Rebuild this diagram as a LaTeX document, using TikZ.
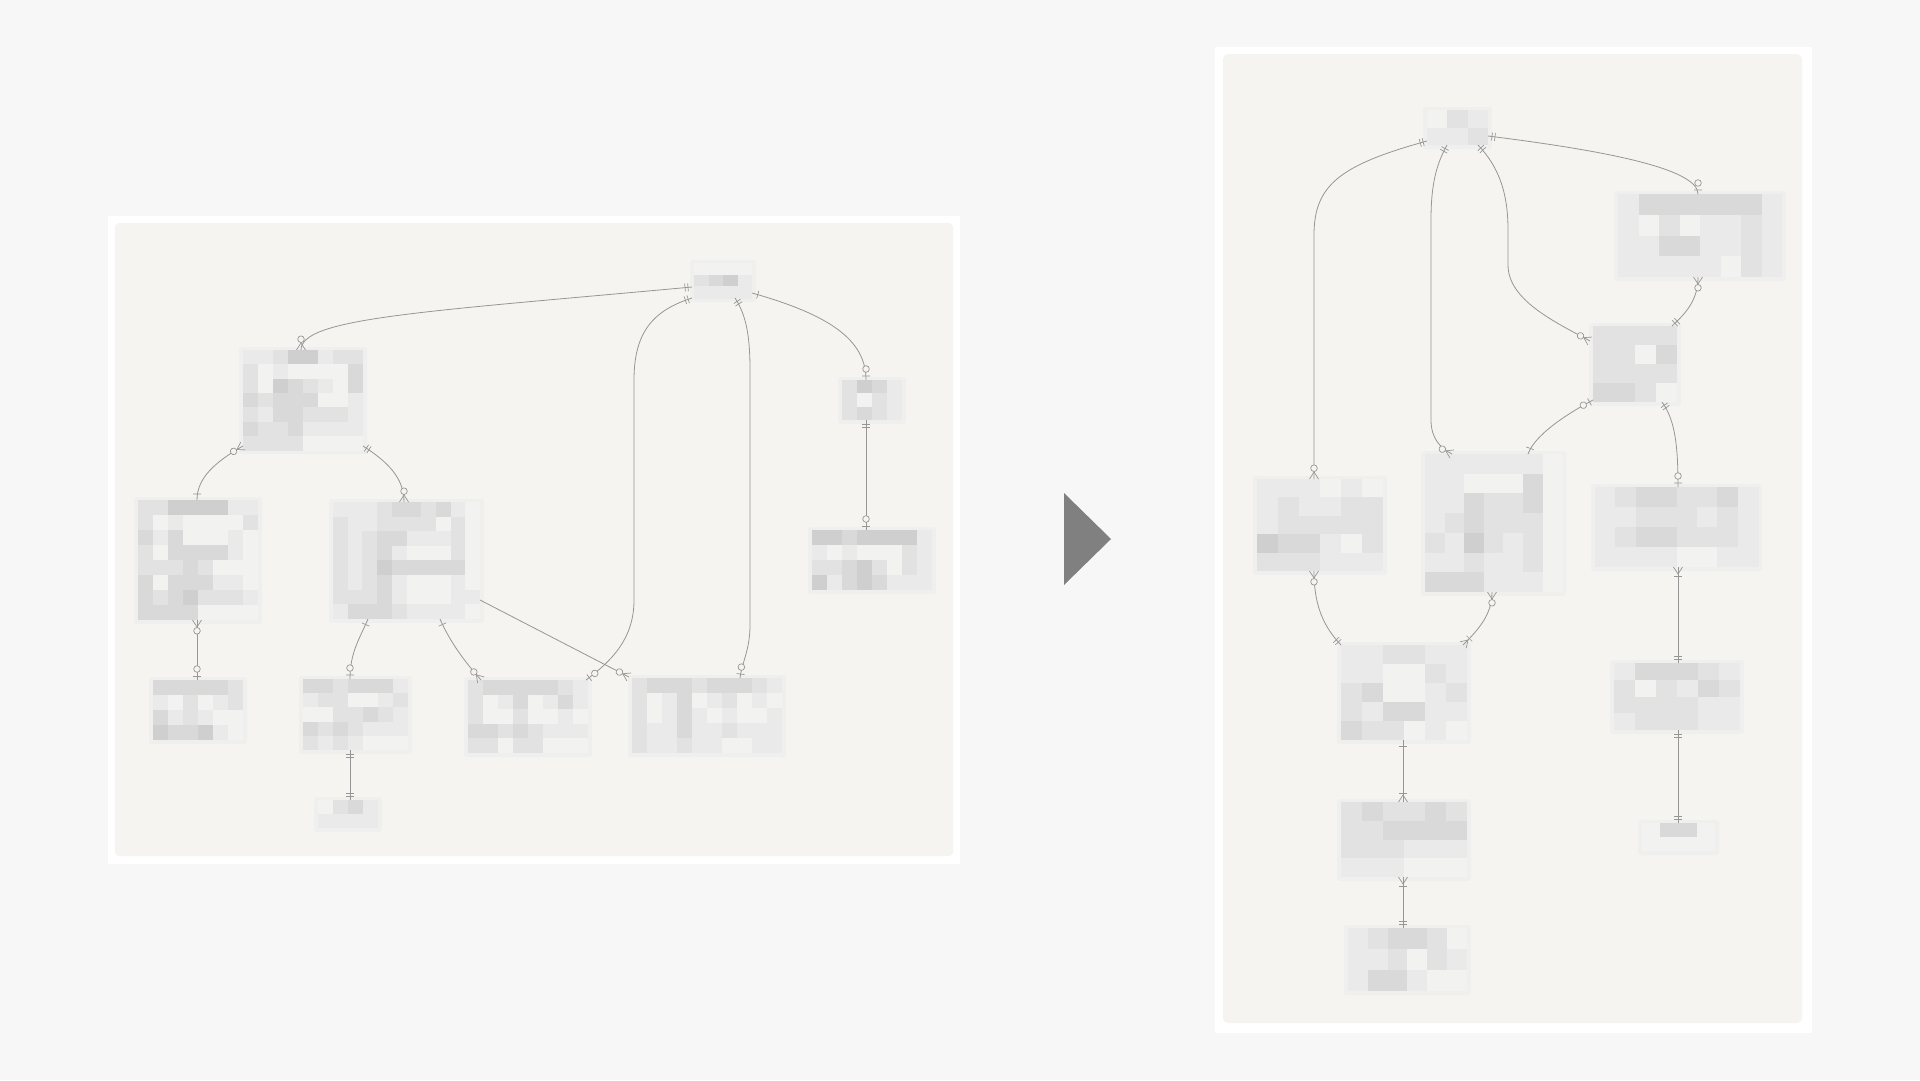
\documentclass[tikz,border=0pt]{standalone}
\usetikzlibrary{calc,decorations.markings}
\definecolor{pagebg}{RGB}{247,247,247}
\definecolor{panel}{RGB}{245,244,240}
\definecolor{halocol}{RGB}{239,239,237}
\definecolor{g0}{RGB}{245,244,240}
\definecolor{g1}{RGB}{242,242,241}
\definecolor{g2}{RGB}{234,234,234}
\definecolor{g3}{RGB}{226,226,226}
\definecolor{g4}{RGB}{217,217,217}
\definecolor{g5}{RGB}{207,207,207}
\definecolor{linegray}{RGB}{150,150,150}
\definecolor{arrowgray}{RGB}{128,128,128}
\tikzset{
  ent/.style={inner sep=0pt, outer sep=0pt, anchor=north west, draw=none},
  halo/.style={fill=halocol, rounded corners=3pt},
  conn/.style={draw=linegray, line width=0.8pt},
  erm/.style={draw=linegray, line width=0.7pt},
  atS/.style={postaction={decorate,decoration={markings,mark=at position 0.01pt with {#1}}}},
  atE/.style={postaction={decorate,decoration={markings,mark=at position -0.01pt with {\begin{scope}[xscale=-1]#1\end{scope}}}}},
}
\newcommand{\ERone}{\draw[erm] (6pt,-4pt)--(6pt,4pt);}
\newcommand{\ERtwo}{\draw[erm] (4pt,-4pt)--(4pt,4pt) (7pt,-4pt)--(7pt,4pt);}
\newcommand{\ERzo}{\draw[erm] (4pt,-4pt)--(4pt,4pt); \draw[erm,fill=panel] (11pt,0pt) circle (3.3pt);}
\newcommand{\ERzm}{\draw[erm] (0pt,-4.5pt)--(7pt,0pt)--(0pt,4.5pt); \draw[erm,fill=panel] (10.8pt,0pt) circle (3.3pt);}
\newcommand{\ERom}{\draw[erm] (0pt,-4.5pt)--(7pt,0pt)--(0pt,4.5pt); \draw[erm] (9pt,-4pt)--(9pt,4pt);}
% #1 name, #2 x, #3 y, #4 cols, #5 rows, #6 cell w, #7 cell h, #8 shades
\newcommand{\entity}[8]{%
  \fill[halo] (#2-4,#3-3) rectangle (#2+#4*#6+4,#3+#5*#7+4);
  \foreach \rw [count=\ri from 0] in {#8}{%
    \foreach \vv [count=\ci from 0] in \rw {%
      \fill[g\vv] (#2+\ci*#6,#3+\ri*#7) rectangle ++(#6+0.4,#7+0.4);
    }%
  }%
  \node[ent, minimum width={#4*#6pt}, minimum height={#5*#7pt}] (#1) at (#2,#3) {};
}
\begin{document}
\begin{tikzpicture}[x=1pt,y=-1pt]
\useasboundingbox (0,0) rectangle (1920,1080);
\fill[pagebg] (0,0) rectangle (1920,1080);
% frames
\fill[white] (108,216) rectangle (960,864);
\fill[panel, rounded corners=4pt] (115,223) rectangle (953,856);
\fill[white] (1215,47) rectangle (1812,1033);
\fill[panel, rounded corners=5pt] (1223,54) rectangle (1802,1023);
% arrow
\fill[arrowgray] (1064,493) -- (1111,539) -- (1064,585) -- cycle;

% ---------- left diagram ----------
\entity{T}{694}{263}{4}{3}{14.5}{11.7}{{1,1,1,1},{3,4,5,2},{2,2,2,2}}
\entity{A}{243}{350}{8}{7}{15}{14.3}{{2,2,3,5,5,2,3,3},{3,1,2,1,1,1,1,4},{3,1,5,4,3,2,1,4},{4,3,4,4,4,1,1,2},{3,2,4,4,3,3,3,2},{4,3,3,4,2,2,2,2},{3,3,3,3,1,1,1,1}}
\entity{B}{138}{500}{8}{8}{15}{15}{{3,3,5,5,5,5,2,2},{3,1,2,1,1,1,1,3},{4,2,4,1,1,1,2,1},{3,1,4,4,4,4,2,1},{3,3,3,4,3,1,1,1},{4,1,4,4,4,2,2,1},{4,3,4,5,3,3,3,2},{4,4,4,4,1,1,1,1}}
\entity{C}{333}{502}{10}{8}{14.7}{14.6}{{2,2,2,3,4,4,3,4,2,1},{3,2,2,3,3,3,3,1,3,1},{3,2,3,4,4,2,2,2,3,1},{3,2,3,4,2,1,1,1,3,1},{3,2,3,5,4,4,4,4,4,1},{3,2,3,4,2,1,1,1,2,1},{3,3,3,4,2,1,1,1,2,2},{2,4,4,4,3,2,2,2,2,1}}
\entity{D}{153}{680}{6}{4}{15}{15}{{4,4,4,4,4,3},{2,1,3,1,2,3},{4,2,3,2,1,1},{5,4,4,5,2,1}}
\entity{E}{303}{679}{7}{5}{15}{14.2}{{4,4,3,4,4,4,2},{2,3,3,1,1,2,3},{1,1,3,3,4,3,2},{4,3,4,3,2,2,2},{3,2,3,2,1,1,1}}
\entity{F}{318}{800}{4}{2}{15}{14}{{1,3,4,2},{2,2,2,2}}
\entity{G}{468}{680}{8}{5}{15}{14.6}{{3,4,4,4,4,4,3,2},{3,1,2,4,1,2,4,2},{3,1,1,3,1,1,2,1},{4,4,3,4,3,2,2,2},{3,3,1,3,3,1,1,1}}
\entity{H}{632}{678}{10}{5}{15}{15}{{3,4,4,4,3,4,4,4,3,2},{3,1,2,4,1,2,3,1,2,1},{3,1,2,4,2,1,2,1,1,2},{3,2,2,4,2,2,3,2,2,2},{3,2,2,3,2,2,1,1,2,2}}
\entity{I}{842}{380}{4}{3}{15}{13.3}{{3,5,4,2},{3,1,3,2},{3,4,3,2}}
\entity{J}{812}{530}{8}{4}{15}{15}{{5,5,4,5,5,5,5,2},{2,1,2,1,1,1,3,2},{3,3,4,5,3,1,3,2},{5,2,4,5,4,2,2,2}}

\draw[conn, atS=\ERtwo, atE=\ERzm] ($(T.north west)+(-2,24)$) .. controls (420,312) and (301,318) .. ($(A.north west)+(58,0)$);
\draw[conn, atS=\ERtwo, atE=\ERzo] ($(T.north west)+(-2,35)$) .. controls (655,310) and (634,330) .. (634,380) -- (634,600) .. controls (634,640) and (610,662) .. ($(G.north west)+(118,0)$);
\draw[conn, atS=\ERtwo, atE=\ERzo] ($(T.north west)+(41,35)$) .. controls (746,315) and (750,335) .. (750,370) -- (750,625) .. controls (750,650) and (742,662) .. ($(H.north west)+(108,0)$);
\draw[conn, atS=\ERone, atE=\ERzo] ($(T.north west)+(58,30)$) .. controls (830,315) and (866,340) .. ($(I.north west)+(24,0)$);
\draw[conn, atS=\ERtwo, atE=\ERzo] ($(I.north west)+(24,40)$) -- ($(J.north west)+(54,0)$);
\draw[conn, atS=\ERzm, atE=\ERone] ($(A.north west)+(0,96)$) .. controls (215,462) and (197,478) .. ($(B.north west)+(59,0)$);
\draw[conn, atS=\ERtwo, atE=\ERzm] ($(A.north west)+(120,96)$) .. controls (388,462) and (404,478) .. ($(C.north west)+(71,0)$);
\draw[conn, atS=\ERzm, atE=\ERzo] ($(B.north west)+(59,120)$) -- ($(D.north west)+(44,0)$);
\draw[conn, atS=\ERone, atE=\ERzo] ($(C.north west)+(35,117)$) .. controls (360,638) and (350,652) .. ($(E.north west)+(47,0)$);
\draw[conn, atS=\ERone, atE=\ERzm] ($(C.north west)+(107,117)$) .. controls (450,642) and (465,662) .. ($(G.north west)+(13,0)$);
\draw[conn, atE=\ERzm] ($(C.north west)+(147,98)$) -- ($(H.north west)+(-3,-1)$);
\draw[conn, atS=\ERtwo, atE=\ERtwo] ($(E.north west)+(47,71)$) -- ($(F.north west)+(32,0)$);

% ---------- right diagram ----------
\entity{RT}{1427}{110}{3}{2}{20.3}{17.5}{{1,3,2},{2,2,3}}
\entity{RB1}{1618}{194}{8}{4}{20.5}{20.75}{{2,4,4,4,4,4,4,2},{2,1,3,1,2,2,3,2},{2,2,4,4,2,2,3,2},{2,2,2,2,2,1,3,2}}
\entity{RM}{1593}{326}{4}{4}{21}{19}{{3,3,3,3},{3,3,1,4},{3,3,3,3},{4,4,3,1}}
\entity{RL}{1257}{479}{6}{5}{21}{18.4}{{2,2,2,1,2,1},{2,3,2,2,3,3},{2,3,3,3,3,3},{5,4,4,2,1,3},{3,3,3,2,2,2}}
\entity{RC}{1425}{454}{7}{7}{19.6}{19.7}{{2,2,2,2,2,2,1},{2,2,1,1,1,4,1},{2,2,4,3,3,4,1},{2,3,4,3,3,3,1},{3,2,5,3,2,3,1},{2,2,3,2,2,3,1},{4,4,4,2,2,2,1}}
\entity{RR}{1595}{487}{8}{4}{20.4}{20}{{2,3,4,4,3,3,4,2},{2,2,3,3,3,2,3,2},{2,3,4,4,3,3,3,2},{2,2,2,2,1,1,2,2}}
\entity{RD}{1341}{645}{6}{5}{21}{19}{{2,2,3,3,2,2},{2,2,1,1,3,2},{3,4,1,1,2,3},{3,2,4,4,2,2},{4,3,3,1,2,1}}
\entity{RE}{1341}{802}{6}{4}{21}{18.75}{{3,4,3,3,4,3},{3,3,4,4,4,4},{3,3,3,2,2,2},{2,2,2,1,1,1}}
\entity{RF}{1348}{928}{6}{3}{19.8}{21}{{2,3,4,4,3,1},{2,2,3,1,3,2},{2,4,4,2,1,1}}
\entity{RG}{1614}{663}{6}{4}{21}{16.75}{{2,4,4,4,3,2},{3,1,3,2,4,3},{3,3,3,3,2,2},{2,3,3,3,2,2}}
\entity{RH}{1642}{823}{4}{2}{18.25}{14}{{1,4,4,1},{1,1,1,1}}

\draw[conn, atS=\ERtwo, atE=\ERzm] ($(RT.north west)+(0,31)$) .. controls (1340,165) and (1314,185) .. (1314,235) -- ($(RL.north west)+(57,0)$);
\draw[conn, atS=\ERtwo, atE=\ERzm] ($(RT.north west)+(20,35)$) .. controls (1436,165) and (1431,185) .. (1431,220) -- (1431,420) .. controls (1431,438) and (1440,448) .. ($(RC.north west)+(27,0)$);
\draw[conn, atS=\ERtwo, atE=\ERzm] ($(RT.north west)+(51,35)$) .. controls (1500,168) and (1508,195) .. (1508,230) -- (1508,265) .. controls (1508,300) and (1555,322) .. ($(RM.north west)+(-3,15)$);
\draw[conn, atS=\ERtwo, atE=\ERzo] ($(RT.north west)+(61,26)$) .. controls (1600,150) and (1698,168) .. ($(RB1.north west)+(80,0)$);
\draw[conn, atS=\ERzm, atE=\ERtwo] ($(RB1.north west)+(80,83)$) .. controls (1698,300) and (1686,313) .. ($(RM.north west)+(79,0)$);
\draw[conn, atS=\ERzo, atE=\ERone] ($(RM.north west)+(0,74)$) .. controls (1565,415) and (1535,435) .. ($(RC.north west)+(103,0)$);
\draw[conn, atS=\ERtwo, atE=\ERzo] ($(RM.north west)+(69,76)$) .. controls (1675,420) and (1678,445) .. ($(RR.north west)+(83,0)$);
\draw[conn, atS=\ERzm, atE=\ERtwo] ($(RL.north west)+(57,92)$) .. controls (1314,608) and (1325,628) .. ($(RD.north west)+(0,0)$);
\draw[conn, atS=\ERzm, atE=\ERom] ($(RC.north west)+(67,138)$) .. controls (1492,615) and (1478,630) .. ($(RD.north west)+(122,0)$);
\draw[conn, atS=\ERone, atE=\ERom] ($(RD.north west)+(62,95)$) -- ($(RE.north west)+(62,0)$);
\draw[conn, atS=\ERom, atE=\ERtwo] ($(RE.north west)+(62,75)$) -- ($(RF.north west)+(55,0)$);
\draw[conn, atS=\ERom, atE=\ERtwo] ($(RR.north west)+(83,80)$) -- ($(RG.north west)+(64,0)$);
\draw[conn, atS=\ERtwo, atE=\ERtwo] ($(RG.north west)+(64,67)$) -- ($(RH.north west)+(36,0)$);
\end{tikzpicture}
\end{document}
